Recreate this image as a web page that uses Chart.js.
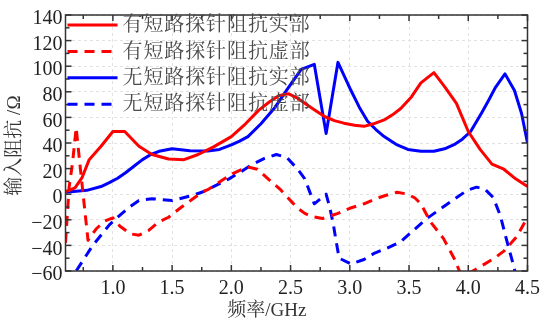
<!DOCTYPE html>
<html>
<head>
<meta charset="utf-8">
<title>输入阻抗</title>
<script src="https://cdn.jsdelivr.net/npm/chart.js"></script>
<style>
  html, body { margin: 0; padding: 0; background: #fff; }
  #wrap { width: 546px; height: 322px; }
</style>
</head>
<body>
<div id="wrap"><canvas id="chart" width="546" height="322"></canvas></div>
<script>
// series labels
const labels = ['有短路探针阻抗实部', '有短路探针阻抗虚部', '无短路探针阻抗实部', '无短路探针阻抗虚部'];

// with short-circuit probe, real part
const realShortX = [0.6, 0.68, 0.74, 0.8, 0.9, 1.0, 1.1, 1.22, 1.33, 1.47, 1.6, 1.72, 1.85, 2.0, 2.12, 2.23, 2.32, 2.4, 2.48, 2.55, 2.62, 2.7, 2.79, 2.87, 2.95, 3.04, 3.12, 3.2, 3.29, 3.36, 3.43, 3.52, 3.6, 3.71, 3.8, 3.9, 4.0, 4.1, 4.2, 4.3, 4.4, 4.5];
const realShortY = [2, 5, 13, 27, 37.5, 49, 49, 37.5, 31, 27.5, 27, 31, 37, 45, 55, 65.5, 72, 77, 78.5, 75.5, 71, 66, 60.5, 57.5, 55.5, 53.8, 53, 55, 58, 62, 67, 76, 87, 95, 84, 71, 49, 35, 23.5, 19.5, 12, 6];

// with short-circuit probe, imaginary part
const imagShortX = [0.6, 0.63, 0.66, 0.69, 0.72, 0.76, 0.79, 0.86, 0.93, 1.0, 1.06, 1.15, 1.22, 1.3, 1.39, 1.47, 1.58, 1.67, 1.75, 1.81, 1.9, 2.0, 2.08, 2.15, 2.22, 2.31, 2.41, 2.51, 2.56, 2.62, 2.68, 2.77, 2.9, 3.0, 3.12, 3.22, 3.3, 3.4, 3.49, 3.55, 3.6, 3.68, 3.79, 3.88, 3.93, 3.97, 4.02, 4.13, 4.22, 4.3, 4.41, 4.5];
const imagShortY = [-38, 5, 25, 52, 25, -10, -36, -27, -21, -18.5, -25, -31, -32, -28.5, -21.5, -18, -10, -4, 1.5, 4, 9.5, 15.5, 19, 21, 19.5, 12, 4, -6, -11, -15, -17.5, -19, -15, -11, -7.5, -3.5, -1, 1.5, 0, -3, -7.5, -21.5, -34.5, -50, -61, -64, -61, -55, -50, -44.5, -33, -18];

// without short-circuit probe, real part
const realOpenX = [0.6, 0.78, 0.9, 0.97, 1.04, 1.11, 1.18, 1.25, 1.32, 1.39, 1.5, 1.65, 1.8, 1.9, 2.0, 2.07, 2.14, 2.25, 2.37, 2.48, 2.59, 2.7, 2.8, 2.9, 3.01, 3.08, 3.15, 3.22, 3.29, 3.39, 3.49, 3.6, 3.71, 3.8, 3.88, 3.95, 4.02, 4.11, 4.17, 4.23, 4.31, 4.39, 4.45, 4.5];
const realOpenY = [1.5, 3, 6, 9, 12.5, 17, 22, 27, 31, 33.5, 35.5, 34, 33.8, 35, 38.5, 41.5, 45, 55, 68, 83, 97.5, 101.5, 47.5, 103, 81, 68, 57, 50.5, 45, 39, 35, 33.5, 33.5, 35.5, 38.7, 43, 49, 63, 73, 83.5, 94, 81, 63, 40];

// without short-circuit probe, imaginary part
const imagOpenX = [0.6, 0.69, 0.76, 0.83, 0.97, 1.04, 1.14, 1.22, 1.33, 1.5, 1.67, 1.75, 1.81, 1.98, 2.08, 2.17, 2.28, 2.38, 2.47, 2.56, 2.62, 2.7, 2.8, 2.83, 2.86, 2.885, 2.91, 3.01, 3.12, 3.21, 3.32, 3.43, 3.54, 3.65, 3.75, 3.85, 3.99, 4.07, 4.14, 4.21, 4.27, 4.32, 4.38, 4.42];
const imagOpenY = [-85, -60, -50, -40, -24, -18, -10, -5, -3.5, -5, -1, 1.5, 4, 12, 17.5, 23, 28, 31, 28.5, 19.5, 12, -7.5, 0, -10, -23, -37, -50, -54.5, -51, -46, -42, -37, -28, -19, -12.5, -6, 3, 5.5, 4, -2.5, -16.5, -34.5, -55, -70];

// axes
const xTicks = [1.0, 1.5, 2.0, 2.5, 3.0, 3.5, 4.0, 4.5];
const yTicks = [-60, -40, -20, 0, 20, 40, 60, 80, 100, 120, 140];
const xTitle = '频率/GHz';
const yTitle = '输入阻抗 /Ω';

const serif = '"Liberation Serif", "Noto Serif CJK SC", "Noto Sans CJK SC", serif';
const pts = (xs, ys) => xs.map((x, i) => ({ x: x, y: ys[i] }));

// frame with inward ticks, axis titles, legend inside plot
const decor = {
  id: 'decor',
  afterDraw(chart) {
    const { ctx, chartArea: a, scales: { x, y } } = chart;
    ctx.save();
    ctx.strokeStyle = '#333';
    ctx.lineWidth = 1.5;
    ctx.strokeRect(a.left, a.top, a.right - a.left, a.bottom - a.top);

    const seg = (x1, y1, x2, y2) => { ctx.beginPath(); ctx.moveTo(x1, y1); ctx.lineTo(x2, y2); ctx.stroke(); };
    const xs = xTicks.map(v => [v, 6]).concat(xTicks.map(v => [v - 0.25, 4]));
    xs.forEach(([v, len]) => {
      if (v < x.min || v > x.max) return;
      const p = x.getPixelForValue(v);
      seg(p, a.bottom, p, a.bottom - len);
      seg(p, a.top, p, a.top + len);
    });
    const ys = yTicks.map(v => [v, 6]).concat(yTicks.map(v => [v - 10, 4]));
    ys.forEach(([v, len]) => {
      if (v < y.min || v > y.max) return;
      const p = y.getPixelForValue(v);
      seg(a.left, p, a.left + len, p);
      seg(a.right, p, a.right - len, p);
    });

    // axis titles
    ctx.fillStyle = '#333';
    ctx.font = '19px ' + serif;
    ctx.textAlign = 'center';
    ctx.textBaseline = 'middle';
    ctx.fillText(xTitle, x.getPixelForValue(2.3), 311);
    ctx.save();
    ctx.translate(15, y.getPixelForValue(38));
    ctx.rotate(-Math.PI / 2);
    ctx.fillText(yTitle, 0, 0);
    ctx.restore();

    // legend
    ctx.font = '20px ' + serif;
    ctx.letterSpacing = '0.9px';
    ctx.textAlign = 'left';
    chart.data.datasets.forEach((ds, i) => {
      const ly = a.top + 10 + i * 26.4;
      ctx.strokeStyle = ds.borderColor;
      ctx.lineWidth = 3;
      ctx.setLineDash(ds.borderDash || []);
      seg(a.left + 2, ly, a.left + 52, ly);
      ctx.setLineDash([]);
      ctx.fillStyle = '#4a4a4a';
      ctx.fillText(ds.label, a.left + 57, ly + 1);
    });
    ctx.restore();
  }
};

const dash = [10, 7];

new Chart(document.getElementById('chart'), {
  type: 'line',
  data: {
    datasets: [
      { label: labels[0], data: pts(realShortX, realShortY), borderColor: '#ff0000', borderWidth: 3 },
      { label: labels[1], data: pts(imagShortX, imagShortY), borderColor: '#ff0000', borderWidth: 3, borderDash: dash },
      { label: labels[2], data: pts(realOpenX, realOpenY), borderColor: '#0000ff', borderWidth: 3 },
      { label: labels[3], data: pts(imagOpenX, imagOpenY), borderColor: '#0000ff', borderWidth: 3, borderDash: dash }
    ]
  },
  options: {
    responsive: false,
    animation: false,
    events: [],
    layout: { padding: { top: 10, right: 14, left: 0, bottom: 0 } },
    elements: {
      point: { radius: 0 },
      line: { tension: 0, borderCapStyle: 'butt', borderJoinStyle: 'round' }
    },
    plugins: { legend: { display: false }, tooltip: { enabled: false } },
    scales: {
      x: {
        type: 'linear',
        min: 0.6,
        max: 4.5,
        afterBuildTicks: s => { s.ticks = xTicks.map(v => ({ value: v })); },
        afterFit: s => { s.height = 51; },
        grid: { color: '#e2e2e2', drawTicks: false },
        border: { display: false, dash: [3, 3] },
        ticks: { autoSkip: false, padding: 6, color: '#222', font: { family: serif, size: 20 }, callback: v => v.toFixed(1), maxRotation: 0 }
      },
      y: {
        min: -60,
        max: 140,
        afterBuildTicks: s => { s.ticks = yTicks.map(v => ({ value: v })); },
        afterFit: s => { s.width = 65.5; },
        grid: { color: '#e2e2e2', drawTicks: false },
        border: { display: false, dash: [3, 3] },
        ticks: { autoSkip: false, padding: 3, labelOffset: 4, color: '#222', font: { family: serif, size: 20 }, callback: v => (v < 0 ? '\u2212' + Math.abs(v) : String(v)) }
      }
    }
  },
  plugins: [decor]
});
</script>
</body>
</html>
